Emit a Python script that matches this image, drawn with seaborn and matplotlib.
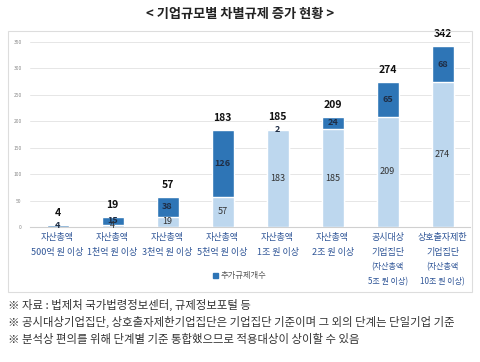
import matplotlib
matplotlib.use('Agg')
import matplotlib.pyplot as plt
import seaborn as sns
import pandas as pd
from matplotlib.patches import Rectangle, Patch

# 데이터
categories = ['자산총액\n500억 원 이상', '자산총액\n1천억 원 이상', '자산총액\n3천억 원 이상',
              '자산총액\n5천억 원 이상', '자산총액\n1조 원 이상', '자산총액\n2조 원 이상',
              '공시대상\n기업집단', '상호출자제한\n기업집단']
extra_notes = ['', '', '', '', '', '', '(자산총액\n5조 원 이상)', '(자산총액\n10조 원 이상)']
base_values = [0, 4, 19, 57, 183, 185, 209, 274]
added_values = [4, 15, 38, 126, 2, 24, 65, 68]
yticks = [0, 50, 100, 150, 200, 250, 300, 350]

footnotes = ['※ 자료 : 법제처 국가법령정보센터, 규제정보포털 등',
             '※ 공시대상기업집단, 상호출자제한기업집단은 기업집단 기준이며 그 외의 단계는 단일기업 기준',
             '※ 분석상 편의를 위해 단계별 기준 통합했으므로 적용대상이 상이할 수 있음']

sns.set_theme(style='white')
plt.rcParams['font.family'] = ['Noto Sans CJK KR', 'DejaVu Sans']

dark = '#2E75B6'
light = '#BDD7EE'

df = pd.DataFrame({'cat': categories, 'base': base_values, 'added': added_values})
df['total'] = df['base'] + df['added']

fig = plt.figure(figsize=(4.8, 3.62), dpi=100)
fig.patch.set_facecolor('white')
ax = fig.add_axes([0.0625, 0.373, 0.917, 0.511])

# 박스 테두리
fig.patches.append(Rectangle((0.017, 0.193), 0.966, 0.722, transform=fig.transFigure,
                             fill=False, edgecolor='#DDDDDD', linewidth=0.8))

sns.barplot(data=df, x='cat', y='total', color=dark, width=0.4, saturation=1, ax=ax, zorder=3)
sns.barplot(data=df, x='cat', y='base', color=light, width=0.4, saturation=1, ax=ax, zorder=3)

ax.set_ylim(0, 350)
ax.set_xlim(-0.5, 7.5)
ax.set_yticks(yticks)
ax.set_yticklabels([str(v) for v in yticks], fontsize=3.5, color='#888888')
ax.yaxis.grid(True, color='#E6E6E6', linewidth=0.7, zorder=0)
ax.tick_params(axis='y', length=0, pad=6)
ax.tick_params(axis='x', length=0, pad=4)
ax.set_xlabel('')
ax.set_ylabel('')
for s in ['top', 'right', 'left']:
    ax.spines[s].set_visible(False)
ax.spines['bottom'].set_color('#D0D0D0')
ax.spines['bottom'].set_linewidth(0.8)
ax.set_xticklabels(categories, fontsize=6.5, color='#2F5597', linespacing=1.9)

for i, row in df.iterrows():
    # 추가 규제 라벨
    ax.text(i, row['base'] + row['added'] / 2, str(row['added']), ha='center', va='center',
            fontsize=6.5, fontweight='bold', color='#1F2D44', zorder=5)
    if row['base'] > 0:
        ax.text(i, row['base'] / 2, str(row['base']), ha='center', va='center',
                fontsize=6.5, color='#333333', zorder=5)
    ax.annotate(str(row['total']), (i, row['total']), xytext=(0, 5), textcoords='offset points',
                ha='center', va='bottom', fontsize=7.5, fontweight='bold', color='#111111')
    if extra_notes[i]:
        ax.annotate(extra_notes[i], (i, 0), xytext=(0, -25.5), textcoords='offset points',
                    ha='center', va='top', fontsize=5.8, color='#2F5597', linespacing=1.8,
                    annotation_clip=False)

fig.legend(handles=[Patch(color=dark, label='추가규제개수')], loc='center',
           bbox_to_anchor=(0.5, 0.238), frameon=False, fontsize=6, handlelength=0.6,
           handleheight=0.6, handletextpad=0.3, labelcolor='#555555')

fig.text(0.5, 0.961, '< 기업규모별 차별규제 증가 현황 >', ha='center', va='center',
         fontsize=9.5, fontweight='bold', color='#222222')

for k, note in enumerate(footnotes):
    fig.text(0.017, 1 - (305 + 17 * k) / 362, note, ha='left', va='center',
             fontsize=8.2, color='#333333')

fig.savefig('out.png', dpi=100, facecolor='white')
